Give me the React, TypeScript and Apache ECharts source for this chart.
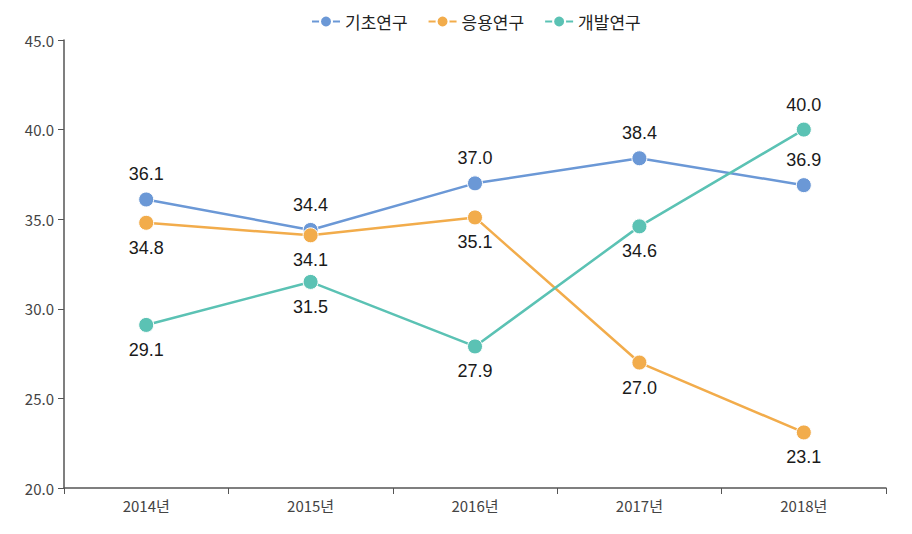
import React, { useEffect, useRef } from "react";
import * as echarts from "echarts";

const categories = ["2014년", "2015년", "2016년", "2017년", "2018년"];
const basicResearch = [36.1, 34.4, 37.0, 38.4, 36.9];
const appliedResearch = [34.8, 34.1, 35.1, 27.0, 23.1];
const devResearch = [29.1, 31.5, 27.9, 34.6, 40.0];
const tealLabelPos = ["bottom", "bottom", "bottom", "bottom", "top"];

export default function App() {
  const ref = useRef<HTMLDivElement>(null);
  useEffect(() => {
    const chart = echarts.init(ref.current!, undefined, { renderer: "svg" });
    const font = "'Noto Sans CJK KR', 'Noto Sans', sans-serif";
    const labelStyle = {
      show: true,
      fontSize: 18,
      color: "#1a1a1a",
      fontFamily: "'Liberation Sans', Arial, sans-serif",
      distance: 8,
      formatter: (p: any) => Number(p.value).toFixed(1),
    };
    const mk = (name: string, data: number[], color: string, pos: string[] | string) => ({
      name,
      type: "line",
      data: data.map((v, i) => ({
        value: v,
        label: { position: Array.isArray(pos) ? pos[i] : pos },
      })),
      symbol: "circle",
      symbolSize: 15,
      lineStyle: { color, width: 2.5 },
      itemStyle: { color, borderColor: "#fff", borderWidth: 1 },
      label: labelStyle,
    });
    chart.setOption({
      animation: false,
      textStyle: { fontFamily: font },
      legend: {
        top: 8,
        left: 306,
        itemWidth: 28,
        itemHeight: 15,
        itemGap: 20,
        textStyle: { fontSize: 17, color: "#222" },
        data: ["기초연구", "응용연구", "개발연구"],
      },
      grid: { left: 64, right: 26, top: 40, bottom: 46 },
      xAxis: {
        type: "category",
        data: categories,
        boundaryGap: true,
        axisLine: { lineStyle: { color: "#555", width: 1.5 } },
        axisTick: { show: true, inside: false, length: 6, lineStyle: { color: "#555" } },
        axisLabel: { fontSize: 15, color: "#444", margin: 10 },
      },
      yAxis: {
        type: "value",
        min: 20,
        max: 45,
        interval: 5,
        axisLine: { show: true, lineStyle: { color: "#555", width: 1.5 } },
        axisTick: { show: true, length: 6, lineStyle: { color: "#555" } },
        splitLine: { show: false },
        axisLabel: { fontSize: 15, color: "#444", margin: 10, formatter: (v: number) => v.toFixed(1) },
      },
      series: [
        mk("기초연구", basicResearch, "#6b98d6", "top"),
        mk("응용연구", appliedResearch, "#f2ac4b", "bottom"),
        mk("개발연구", devResearch, "#5bc2b4", tealLabelPos),
      ],
    });
    return () => chart.dispose();
  }, []);
  return (
    <div
      ref={ref}
      style={{ position: "fixed", left: 0, top: 0, width: 912, height: 534, background: "#fff" }}
    />
  );
}
